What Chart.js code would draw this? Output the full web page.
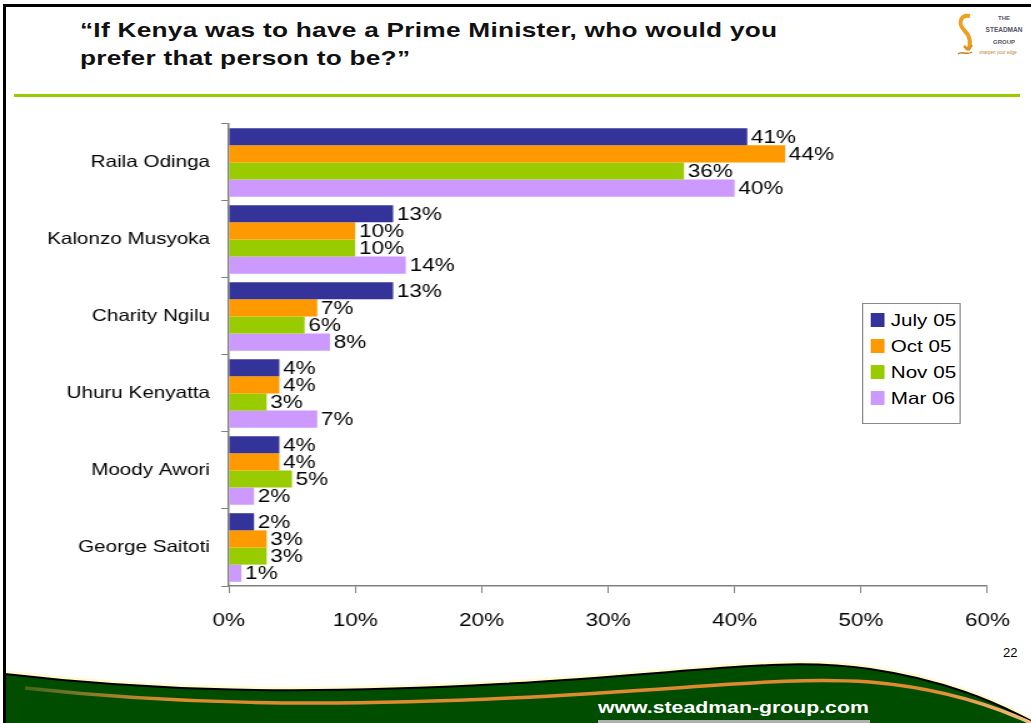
<!DOCTYPE html>
<html>
<head>
<meta charset="utf-8">
<script src="https://cdn.jsdelivr.net/npm/chart.js@4/dist/chart.umd.min.js"></script>
<style>
  html, body { margin: 0; padding: 0; background: #fff; }
  #slide { position: relative; width: 1031px; height: 723px; overflow: hidden; background: #fff; font-family: "Liberation Sans", Arial, sans-serif; }
  #frame { position: absolute; left: 3px; top: 4px; right: -10px; bottom: -10px; border-left: 3px solid #000; border-top: 3px solid #000; }
  /* slide text is drawn a quarter wider than normal */
  .wide { transform: scaleX(1.25); transform-origin: 0 0; }
  #title { position: absolute; left: 80px; top: 16px; font-size: 21px; font-weight: bold; line-height: 28px; letter-spacing: 0.2px; color: #111; white-space: nowrap; }
  #rule { position: absolute; left: 14px; top: 94px; width: 1006px; height: 3px; background: #99cc00; }
  #logo { position: absolute; left: 952px; top: 10px; }
  #chartBox { position: absolute; left: 0; top: 105px; width: 825px; height: 540px; }
  #legend { position: absolute; left: 862px; top: 303px; width: 79px; height: 121px; border: 1px solid #888; background: #fff; box-sizing: border-box; padding-top: 3px; }
  .item { height: 26px; display: flex; align-items: center; font-size: 16.5px; color: #000; white-space: nowrap; }
  .sw { width: 11px; height: 14px; margin: 0 5px 0 6px; flex: none; }
  #footer { position: absolute; left: 0; top: 0; }
  #pageNo { position: absolute; left: 1003px; top: 645px; font-size: 13px; color: #000; }
  #site { position: absolute; left: 598px; top: 698px; font-size: 17px; font-weight: bold; color: #fff; white-space: nowrap; }
  #siteBar { position: absolute; left: 598px; top: 720px; width: 272px; height: 3px; background: #b0b0b0; }
</style>
</head>
<body>
<div id="slide">
  <svg id="footer" width="1031" height="723" viewBox="0 0 1031 723">
    <defs>
      <linearGradient id="stripe" x1="0" y1="0" x2="1" y2="0">
        <stop offset="0" stop-color="#e8a050" stop-opacity="0.3"/>
        <stop offset="0.15" stop-color="#e08a30"/>
        <stop offset="0.9" stop-color="#e08a30"/>
        <stop offset="1" stop-color="#f0c080"/>
      </linearGradient>
    </defs>
    <path d="M 5 674 C 150 691, 300 695, 500 684 S 780 656, 870 669 C 945 680, 995 702, 1031 721 L 1031 723 L 5 723 Z" fill="#004d00"/>
    <path d="M 5 674 C 150 691, 300 695, 500 684 S 780 656, 870 669 C 945 680, 995 702, 1031 721" fill="none" stroke="#fffbd0" stroke-width="3" transform="translate(0,-2)"/>
    <path d="M 5 674 C 150 691, 300 695, 500 684 S 780 656, 870 669 C 945 680, 995 702, 1031 721" fill="none" stroke="#000" stroke-width="2"/>
    <path d="M 25 688 C 170 704, 320 707, 510 698 S 780 676, 870 682 C 940 688, 990 704, 1031 723" fill="none" stroke="url(#stripe)" stroke-width="3.5"/>
  </svg>
  <div id="frame"></div>
  <div id="title" class="wide">“If Kenya was to have a Prime Minister, who would you<br>prefer that person to be?”</div>
  <div id="rule"></div>
  <svg id="logo" width="72" height="54" viewBox="0 0 72 54">
    <path d="M 18 6 C 8 4, 6 14, 12 20 C 18 26, 20 32, 16 40" fill="none" stroke="#f0a020" stroke-width="4"/>
    <path d="M 16 40 L 12 36 M 16 40 L 20 35" stroke="#e09020" stroke-width="2.5" fill="none"/>
    <path d="M 6 44 C 10 40, 14 46, 20 42" stroke="#c08020" stroke-width="1.5" fill="none"/>
    <text x="52" y="10" font-size="6" font-weight="bold" fill="#556" text-anchor="middle" font-family="Liberation Sans">THE</text>
    <text x="52" y="22" font-size="6.5" font-weight="bold" fill="#556" text-anchor="middle" font-family="Liberation Sans">STEADMAN</text>
    <text x="52" y="34" font-size="6" font-weight="bold" fill="#556" text-anchor="middle" font-family="Liberation Sans">GROUP</text>
    <text x="46" y="44" font-size="4.5" fill="#c08030" text-anchor="middle" font-family="Liberation Sans">sharpen your edge</text>
  </svg>
  <div id="chartBox" class="wide"><canvas id="chart" width="825" height="540"></canvas></div>
  <div id="legend" class="wide"></div>
  <div id="pageNo">22</div>
  <div id="site" class="wide">www.steadman-group.com</div>
  <div id="siteBar"></div>
</div>
<script>
// candidates and poll waves
const candidates = ['Raila Odinga', 'Kalonzo Musyoka', 'Charity Ngilu', 'Uhuru Kenyatta', 'Moody Awori', 'George Saitoti'];
const waves = ['July 05', 'Oct 05', 'Nov 05', 'Mar 06'];
const july05 = [41, 13, 13, 4, 4, 2];
const oct05 = [44, 10, 7, 4, 4, 3];
const nov05 = [36, 10, 6, 3, 5, 3];
const mar06 = [40, 14, 8, 7, 2, 1];
const xTicks = [0, 10, 20, 30, 40, 50, 60];
const colors = ['#333399', '#ff9900', '#99cc00', '#cc99ff'];

const series = [july05, oct05, nov05, mar06];
const FONT = '"Liberation Sans", Arial, sans-serif';

// value text at the end of each bar
const barLabels = {
  id: 'barLabels',
  afterDatasetsDraw(chart) {
    const ctx = chart.ctx;
    ctx.save();
    ctx.font = '18px ' + FONT;
    ctx.fillStyle = '#000';
    ctx.textAlign = 'left';
    ctx.textBaseline = 'middle';
    chart.data.datasets.forEach((ds, i) => {
      chart.getDatasetMeta(i).data.forEach((bar, j) => {
        ctx.fillText(ds.data[j] + '%', bar.x + 3, bar.y + 1);
      });
    });
    ctx.restore();
  }
};

new Chart(document.getElementById('chart'), {
  type: 'bar',
  data: {
    labels: candidates,
    datasets: series.map((s, i) => ({
      label: waves[i],
      data: s,
      backgroundColor: colors[i],
      categoryPercentage: 0.89,
      barPercentage: 1.0
    }))
  },
  options: {
    indexAxis: 'y',
    responsive: false,
    animation: false,
    layout: { padding: { top: 5, right: 34, left: 0, bottom: 0 } },
    plugins: { legend: { display: false }, tooltip: { enabled: false } },
    scales: {
      x: {
        min: 0,
        max: 60,
        afterBuildTicks(scale) { scale.ticks = xTicks.map(v => ({ value: v })); },
        afterFit(scale) { scale.height = 59; },
        grid: { drawOnChartArea: false, tickLength: 7, color: '#808080', tickColor: '#808080' },
        border: { color: '#808080', width: 1.5 },
        ticks: { padding: 17, maxRotation: 0, color: '#000', font: { size: 18, family: FONT }, callback: v => v + '%' }
      },
      y: {
        afterFit(scale) { scale.width = 183; },
        grid: { drawOnChartArea: false, tickLength: 6, offset: true, color: '#808080', tickColor: '#808080' },
        border: { color: '#808080', width: 1.5 },
        ticks: { padding: 9, color: '#000', font: { size: 16.5, family: FONT } }
      }
    }
  },
  plugins: [barLabels]
});

// legend box built from the wave names and colours
const legend = document.getElementById('legend');
waves.forEach((w, i) => {
  const row = document.createElement('div');
  row.className = 'item';
  row.innerHTML = `<span class="sw" style="background:${colors[i]}"></span>${w}`;
  legend.appendChild(row);
});
</script>
</body>
</html>
